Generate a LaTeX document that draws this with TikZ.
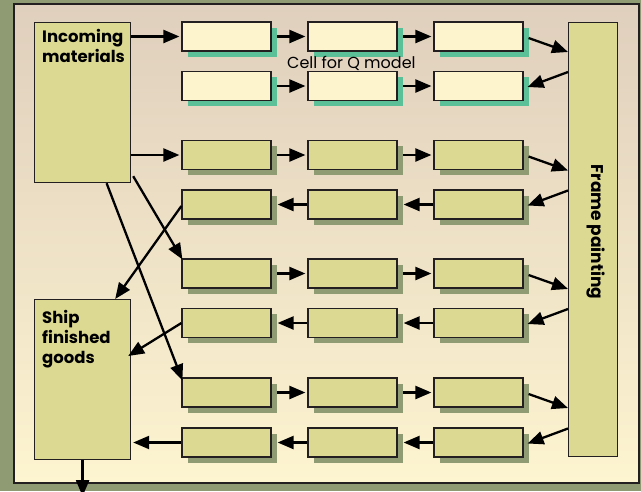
\documentclass[tikz,border=0pt]{standalone}
\usepackage{fontspec}
\setmainfont{Poppins}
\usetikzlibrary{arrows.meta,calc,shadows}

\definecolor{olivebg}{HTML}{8F9B73}
\definecolor{paneltop}{HTML}{DFCFBD}
\definecolor{panelbot}{HTML}{FDF4D0}
\definecolor{creamfill}{HTML}{FDF4CD}
\definecolor{tealshade}{HTML}{5BBF97}
\definecolor{khakifill}{HTML}{DCD993}
\definecolor{inkline}{HTML}{231F20}

\tikzset{
  cellbox/.style={draw=inkline, line width=1.2pt, minimum width=89pt,
    minimum height=29pt, inner sep=0pt},
  qcell/.style={cellbox, fill=creamfill,
    drop shadow={shadow xshift=5.5pt, shadow yshift=-5.5pt, fill=tealshade, opacity=1}},
  pcell/.style={cellbox, fill=khakifill,
    drop shadow={shadow xshift=5.5pt, shadow yshift=-5.5pt, fill=olivebg, opacity=1}},
  bigbox/.style={draw=inkline, line width=1.2pt, fill=khakifill, inner sep=0pt,
    anchor=north west},
  conn/.style={draw=black, line width=2.3pt, -{Triangle[length=16pt,width=13pt]}},
  boldlabel/.style={inner sep=0pt, align=left, text=black,
    font=\bfseries\fontsize{16.5}{20}\selectfont},
}

\begin{document}
\begin{tikzpicture}[x=1pt, y=-1pt]
  \useasboundingbox (0,0) rectangle (641,491);
  % backdrop and panel
  \fill[olivebg] (0,0) rectangle (641,491);
  \shade[top color=paneltop, bottom color=panelbot] (14,4) rectangle (639,483);
  \draw[inkline, line width=1.3pt] (14,4) rectangle (639,483);

  % large stations
  \node[bigbox, minimum width=96pt, minimum height=160pt] (inc) at (34,22) {};
  \node[bigbox, minimum width=96pt, minimum height=160pt] (ship) at (34,299) {};
  \node[bigbox, minimum width=49pt, minimum height=434pt] (frame) at (568,22) {};

  \node[boldlabel, anchor=north west] (inctext) at (42,29) {Incoming\\materials};
  \node[boldlabel, anchor=north west] (shiptext) at (42,310) {Ship\\finished\\goods};
  \node[boldlabel, rotate=-90, font=\bfseries\fontsize{17}{20}\selectfont]
    (frametext) at (596,232) {Frame painting};

  % cells of the Q model line
  \foreach \r/\y in {1/36.5, 2/86}
    \foreach \c/\x in {1/226.5, 2/352.5, 3/478.5}
      \node[qcell] (b\r-\c) at (\x,\y) {};
  % cells of the other lines
  \foreach \r/\y in {3/155, 4/204.5, 5/273.5, 6/323, 7/392.5, 8/442.5}
    \foreach \c/\x in {1/226.5, 2/352.5, 3/478.5}
      \node[pcell] (b\r-\c) at (\x,\y) {};

  \node[anchor=base west, inner sep=0pt, font=\fontsize{16}{19}\selectfont]
    (celltext) at (287,68.5) {Cell for Q model};

  % forward flow along rows 1, 2, 3, 5, 7
  \foreach \r in {1,2,3,5,7} {
    \draw[conn, shorten >=2pt] ([xshift=5.5pt]b\r-1.east) -- (b\r-2.west);
    \draw[conn, shorten >=2pt] ([xshift=5.5pt]b\r-2.east) -- (b\r-3.west);
  }
  % backward flow along rows 4, 6, 8
  \foreach \r in {4,6,8} {
    \draw[conn] (b\r-3.west) -- ([xshift=6pt]b\r-2.east);
    \draw[conn] (b\r-2.west) -- ([xshift=6pt]b\r-1.east);
  }
  % into frame painting
  \foreach \r in {1,3,5,7}
    \draw[conn] ($(b\r-3.east)+(5,1.5)$) -- ($(frame.west |- b\r-3.east)+(0,15.5)$);
  % out of frame painting
  \foreach \r in {2,4,6,8}
    \draw[conn] ($(frame.west |- b\r-3.east)+(0,-14)$) -- ($(b\r-3.east)+(4,1)$);

  % incoming materials feeds
  \draw[conn, shorten >=2pt] (inc.east |- b1-1.west) -- (b1-1.west);
  \draw[conn, shorten >=2pt] (inc.east |- b3-1.west) -- (b3-1.west);
  \draw[conn] ($(inc.south east)+(2,-7)$) -- ($(b5-1.north west)+(1,1)$);
  \draw[conn] ($(inc.south)+(24,0)$) -- ($(b7-1.north west)+(1,3)$);

  % shipping
  \draw[conn] ($(b4-1.west)+(0,1.5)$) -- ($(ship.north east)+(-16,0)$);
  \draw[conn] (b6-1.west) -- ($(ship.north east)+(-3,57)$);
  \draw[conn] (b8-1.west) -- ($(ship.east |- b8-1.west)+(2,0)$);
  \coordinate (shipout) at ($(ship.south)+(0,36)$);
  \draw[conn] (ship.south) -- (shipout);
\end{tikzpicture}
\end{document}
